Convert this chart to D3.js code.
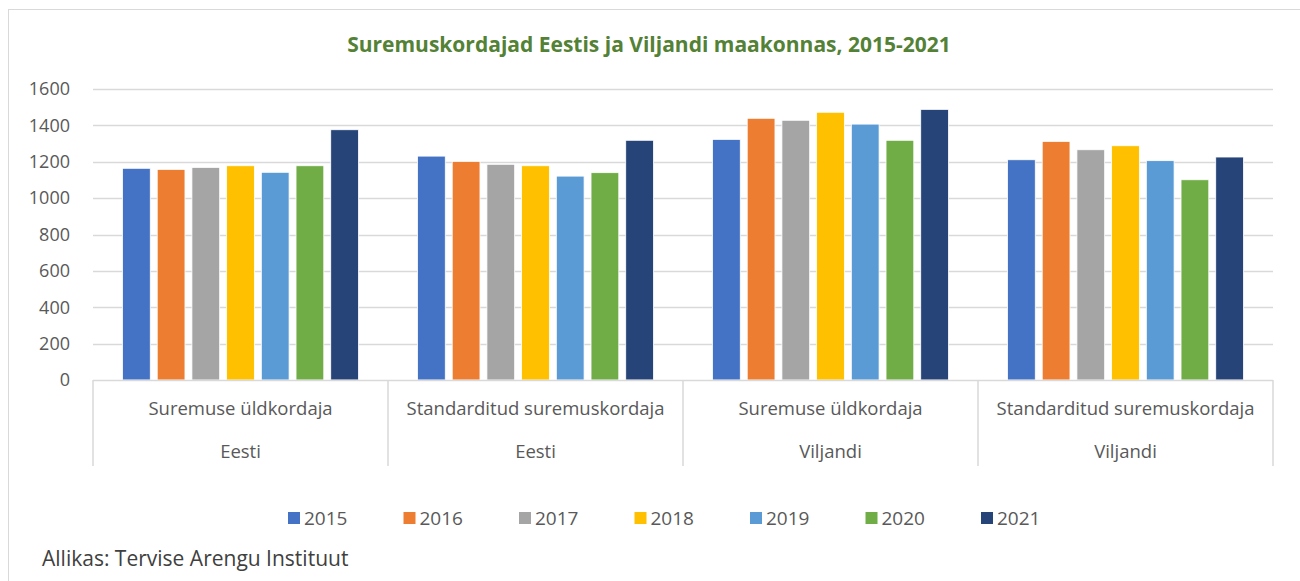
<!DOCTYPE html>
<html>
<head>
<meta charset="utf-8">
<script src="https://cdn.jsdelivr.net/npm/d3@7"></script>
<style>
  body { margin: 0; background: #fff; }
  text { font-family: "Open Sans", sans-serif; }
</style>
</head>
<body>
<div id="chart"></div>
<script>
var svgWidth = 1300;
var svgHeight = 581;

// data
var years = ["2015", "2016", "2017", "2018", "2019", "2020", "2021"];
var indicators = ["Suremuse üldkordaja", "Standarditud suremuskordaja", "Suremuse üldkordaja", "Standarditud suremuskordaja"];
var regions = ["Eesti", "Eesti", "Viljandi", "Viljandi"];
var values = [
  [1164, 1158, 1169, 1178, 1142, 1178, 1376],
  [1231, 1202, 1186, 1178, 1121, 1140, 1318],
  [1323, 1439, 1428, 1472, 1407, 1318, 1488],
  [1211, 1312, 1266, 1288, 1206, 1101, 1226]
];
var yTicks = [0, 200, 400, 600, 800, 1000, 1200, 1400, 1600];
var colors = ["#4472c4", "#ed7d31", "#a5a5a5", "#ffc000", "#5b9bd5", "#70ad47", "#264478"];

var margin = { left: 93, right: 27, top: 89, bottom: 201 };
var width = svgWidth - margin.left - margin.right,
    height = svgHeight - margin.top - margin.bottom;

var svg = d3.select("#chart")
  .append("svg")
    .attr("width", svgWidth)
    .attr("height", svgHeight);

// outer chart border
svg.append("rect")
  .attr("x", 8.5).attr("y", 9.5)
  .attr("width", 1400).attr("height", 700)
  .attr("fill", "none")
  .attr("stroke", "#d9d9d9");

svg.append("text")
  .attr("x", 649).attr("y", 52)
  .attr("text-anchor", "middle")
  .attr("fill", "#538135")
  .attr("font-weight", "bold")
  .attr("font-size", "21px")
  .text("Suremuskordajad Eestis ja Viljandi maakonnas, 2015-2021");

var chartGroup = svg.append("g")
  .attr("transform", `translate(${margin.left}, ${margin.top})`);

var groupIdx = d3.range(values.length);

var x0 = d3.scaleBand()
  .domain(groupIdx)
  .range([0, width]);

var x1 = d3.scaleBand()
  .domain(years)
  .range([0, x0.bandwidth()])
  .paddingInner(0.2)
  .paddingOuter(0.85);

var yScale = d3.scaleLinear()
  .domain([0, 1600])
  .range([height, 0]);

// gridlines
chartGroup.append("g")
  .selectAll("line")
  .data(yTicks.slice(1))
  .enter()
  .append("line")
  .attr("x1", 0).attr("x2", width)
  .attr("y1", d => Math.round(yScale(d)) + 0.5)
  .attr("y2", d => Math.round(yScale(d)) + 0.5)
  .attr("stroke", "#d9d9d9")
  .attr("stroke-width", 1.5);

// y axis labels
var leftAxis = d3.axisLeft(yScale).tickValues(yTicks).tickFormat(d3.format("d")).tickSize(0).tickPadding(23);
var yAxisG = chartGroup.append("g").call(leftAxis);
yAxisG.select(".domain").remove();
yAxisG.selectAll("text")
  .attr("font-family", "Open Sans, sans-serif")
  .attr("font-size", "18px")
  .attr("fill", "#595959");

// bars
var groups = chartGroup.selectAll(".grp")
  .data(values)
  .enter()
  .append("g")
  .attr("class", "grp")
  .attr("transform", (d, i) => `translate(${x0(i)}, 0)`);

groups.selectAll("rect")
  .data(d => d.map((v, j) => ({ year: years[j], value: v, color: colors[j] })))
  .enter()
  .append("rect")
  .attr("x", d => x1(d.year))
  .attr("y", d => yScale(d.value))
  .attr("width", x1.bandwidth())
  .attr("height", d => height - yScale(d.value))
  .attr("fill", d => d.color)
  .attr("stroke", "#fff")
  .attr("stroke-width", 0.8);

// category axis
var axisG = chartGroup.append("g").attr("transform", `translate(0, ${height})`);
axisG.append("line")
  .attr("x1", 0).attr("x2", width)
  .attr("y1", 0.5).attr("y2", 0.5)
  .attr("stroke", "#d9d9d9")
  .attr("stroke-width", 1.5);

axisG.selectAll(".sep")
  .data(d3.range(values.length + 1))
  .enter()
  .append("line")
  .attr("x1", i => i < values.length ? x0(i) : width)
  .attr("x2", i => i < values.length ? x0(i) : width)
  .attr("y1", 0).attr("y2", 86)
  .attr("stroke", "#d9d9d9")
  .attr("stroke-width", 1.5);

axisG.selectAll(".ind")
  .data(indicators)
  .enter()
  .append("text")
  .attr("x", (d, i) => x0(i) + x0.bandwidth() / 2)
  .attr("y", 35)
  .attr("text-anchor", "middle")
  .attr("font-size", "18.5px")
  .attr("fill", "#595959")
  .text(d => d);

axisG.selectAll(".reg")
  .data(regions)
  .enter()
  .append("text")
  .attr("x", (d, i) => x0(i) + x0.bandwidth() / 2)
  .attr("y", 78)
  .attr("text-anchor", "middle")
  .attr("font-size", "18.5px")
  .attr("fill", "#595959")
  .text(d => d);

// legend
var legend = svg.append("g").attr("transform", "translate(288, 518)");
var item = legend.selectAll("g")
  .data(years)
  .enter()
  .append("g")
  .attr("transform", (d, i) => `translate(${i * 115.5}, 0)`);
item.append("rect")
  .attr("x", 0).attr("y", -6)
  .attr("width", 12).attr("height", 12)
  .attr("fill", (d, i) => colors[i]);
item.append("text")
  .attr("x", 16).attr("y", 7)
  .attr("font-size", "19px")
  .attr("fill", "#595959")
  .text(d => d);

svg.append("text")
  .attr("x", 42).attr("y", 566)
  .attr("font-size", "21px")
  .attr("fill", "#404040")
  .text("Allikas: Tervise Arengu Instituut");
</script>
</body>
</html>
